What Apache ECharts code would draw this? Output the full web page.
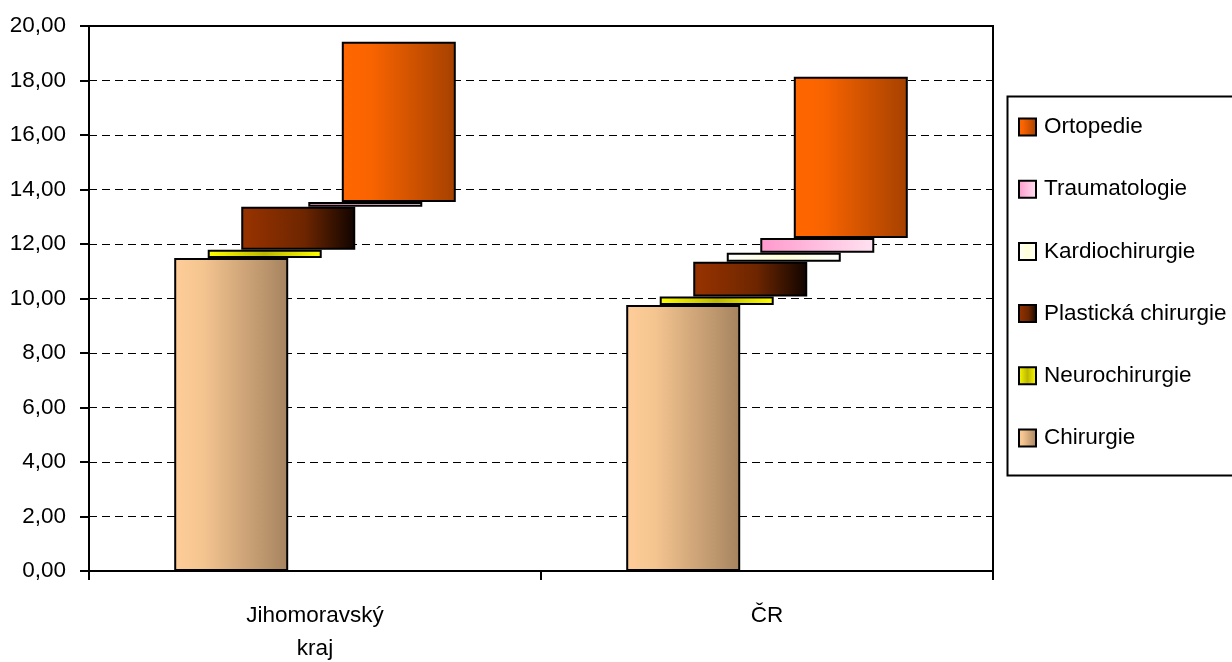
<!DOCTYPE html>
<html>
<head>
<meta charset="utf-8">
<script src="https://cdn.jsdelivr.net/npm/echarts@6/dist/echarts.min.js"></script>
<style>html,body{margin:0;padding:0;background:#fff}#c{width:1232px;height:662px}</style>
</head>
<body>
<div id="c"></div>
<script>
var categories = ['Jihomoravský\nkraj', 'ČR'];
var seriesNames = ['Chirurgie', 'Neurochirurgie', 'Plastická chirurgie', 'Kardiochirurgie', 'Traumatologie', 'Ortopedie'];
var chirurgie = [11.49, 9.76];
var neurochirurgie = [0.30, 0.31];
var plastickaChirurgie = [1.58, 1.28];
var kardiochirurgie = [0, 0.33];
var traumatologie = [0.17, 0.54];
var ortopedie = [5.88, 5.92];
var yTicks = [0, 2, 4, 6, 8, 10, 12, 14, 16, 18, 20];

var values = [chirurgie, neurochirurgie, plastickaChirurgie, kardiochirurgie, traumatologie, ortopedie];
var FONT = 'Liberation Sans, Arial, sans-serif';

function grad(stops) {
  return new echarts.graphic.LinearGradient(0, 0, 1, 0, stops.map(function (s) { return { offset: s[0], color: s[1] }; }));
}
var fills = [
  grad([[0, '#FECD99'], [0.25, '#F5C590'], [1, '#A5835F']]),
  grad([[0, '#FFFF00'], [0.5, '#BDB800'], [1, '#FFFF00']]),
  grad([[0, '#993300'], [0.55, '#6E2600'], [1, '#100400']]),
  grad([[0, '#FFFFFF'], [0.5, '#FFFFD8'], [1, '#FFFFFF']]),
  grad([[0, '#FF99CC'], [1, '#FFE2F1']]),
  grad([[0, '#FF6600'], [0.25, '#FA6400'], [1, '#A54100']])
];

var series = [];
var cum = categories.map(function () { return 0; });
values.forEach(function (vals, i) {
  var stack = 's' + i;
  series.push({
    type: 'bar', name: '_base' + i, stack: stack, silent: true,
    data: cum.slice(), barWidth: 114, barGap: '-70.6%',
    itemStyle: { color: 'transparent', borderWidth: 0 },
    emphasis: { disabled: true }, legendHoverLink: false
  });
  series.push({
    type: 'bar', name: seriesNames[i], stack: stack,
    data: vals.map(function (v) { return v === 0 ? '-' : v; }),
    barWidth: 114, barGap: '-70.6%',
    itemStyle: { color: fills[i], borderColor: '#000', borderWidth: 2 },
    emphasis: { disabled: true }
  });
  cum = cum.map(function (c, k) { return c + vals[k]; });
});

var chart = echarts.init(document.getElementById('c'), null, { renderer: 'canvas' });
chart.setOption({
  animation: false,
  backgroundColor: '#fff',
  textStyle: { fontFamily: FONT },
  grid: { left: 89, right: 239, top: 26, bottom: 91, outerBoundsMode: 'none', containLabel: false,
    show: true, borderColor: '#000', borderWidth: 2, backgroundColor: 'transparent' },
  xAxis: {
    type: 'category', data: categories,
    axisLine: { lineStyle: { color: '#000', width: 2 } },
    axisTick: { show: true, length: 9, lineStyle: { color: '#000', width: 2 } },
    axisLabel: { color: '#000', fontSize: 22.5, lineHeight: 33, margin: 28, fontFamily: FONT }
  },
  yAxis: {
    type: 'value', min: yTicks[0], max: yTicks[yTicks.length - 1], interval: 2,
    axisLine: { show: true, lineStyle: { color: '#000', width: 2 } },
    axisTick: { show: true, length: 9, inside: false, lineStyle: { color: '#000', width: 2 } },
    axisLabel: { color: '#000', fontSize: 22.5, margin: 23, fontFamily: FONT,
      formatter: function (v) { return v.toFixed(2).replace('.', ','); } },
    splitLine: { show: true, lineStyle: { color: '#000', type: [8, 5], width: 1 } }
  },
  legend: {
    orient: 'vertical', left: 1013, top: 110,
    data: seriesNames.slice().reverse(),
    icon: 'rect', itemWidth: 17, itemHeight: 17, itemGap: 38.2,
    itemStyle: { borderColor: '#000', borderWidth: 2 },
    textStyle: { color: '#000', fontSize: 22.5, lineHeight: 24, padding: [0, 0, 0, 3], fontFamily: FONT },
    selectedMode: false
  },
  graphic: [{
    type: 'rect', left: 1005, top: 94,
    shape: { width: 240, height: 379 },
    style: { fill: 'none', stroke: '#000', lineWidth: 2 },
    silent: true
  }],
  series: series
});
</script>
</body>
</html>
